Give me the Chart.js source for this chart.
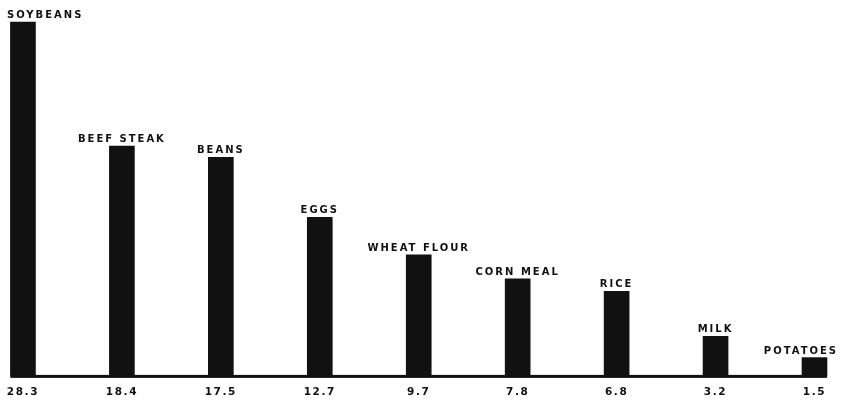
<!DOCTYPE html>
<html>
<head>
<meta charset="utf-8">
<script src="https://cdn.jsdelivr.net/npm/chart.js@4.4.1/dist/chart.umd.min.js"></script>
<style>
  html, body { margin: 0; padding: 0; background: #ffffff; }
  #wrap { width: 841px; height: 404px; position: relative; }
</style>
</head>
<body>
<div id="wrap"><canvas id="c" width="841" height="404"></canvas></div>
<script>
const foods = ["SOYBEANS", "BEEF STEAK", "BEANS", "EGGS", "WHEAT FLOUR", "CORN MEAL", "RICE", "MILK", "POTATOES"];
const values = [28.3, 18.4, 17.5, 12.7, 9.7, 7.8, 6.8, 3.2, 1.5];
const valueLabels = ["28.3", "18.4", "17.5", "12.7", "9.7", "7.8", "6.8", "3.2", "1.5"];

const INK = '#111111';

const spacingPlugin = {
  id: 'spacing',
  beforeDraw(chart) {
    chart.ctx.letterSpacing = '1.6px';
  }
};

const namePlugin = {
  id: 'names',
  afterDatasetsDraw(chart) {
    const ctx = chart.ctx;
    const meta = chart.getDatasetMeta(0);
    const y0 = chart.scales.y.getPixelForValue(0);
    const first = meta.data[0], last = meta.data[meta.data.length - 1];
    ctx.save();
    ctx.letterSpacing = '0px';
    ctx.fillStyle = INK;
    ctx.fillRect(first.x - first.width / 2, y0 - 1.5, (last.x + last.width / 2) - (first.x - first.width / 2), 3);
    ctx.font = 'bold 10px "DejaVu Sans"';
    ctx.letterSpacing = '2px';
    ctx.textBaseline = 'alphabetic';
    ctx.textAlign = 'left';
    const W = chart.width;
    meta.data.forEach((bar, i) => {
      const t = foods[i];
      const w = ctx.measureText(t).width;
      let x = bar.x - w / 2;
      if (x < 7) x = 7;
      if (x + w > W - 3) x = W - 3 - w;
      ctx.fillText(t, x, bar.y - 4);
    });
    ctx.restore();
  }
};

new Chart(document.getElementById('c'), {
  type: 'bar',
  data: {
    labels: valueLabels,
    datasets: [{
      data: values,
      backgroundColor: INK,
      borderWidth: 0,
      barThickness: 25,
      clip: false
    }]
  },
  options: {
    responsive: false,
    animation: false,
    layout: { padding: { top: 22, left: 22.5, right: 26.5, bottom: -5 } },
    plugins: { legend: { display: false }, tooltip: { enabled: false } },
    scales: {
      x: {
        offset: false,
        grid: { display: false, drawTicks: false },
        border: { display: false },
        ticks: {
          color: INK,
          font: { family: 'DejaVu Sans', weight: 'bold', size: 10.5 },
          padding: 10,
          autoSkip: false,
          maxRotation: 0
        }
      },
      y: {
        display: false,
        min: 0,
        max: 28.3
      }
    }
  },
  plugins: [spacingPlugin, namePlugin]
});
</script>
</body>
</html>
